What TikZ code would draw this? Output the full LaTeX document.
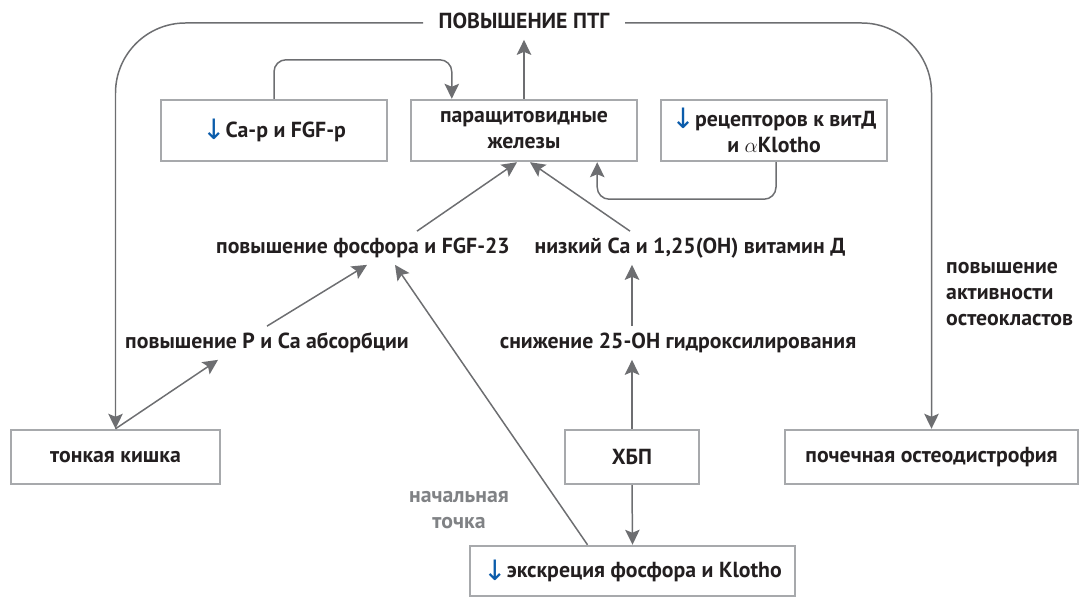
\documentclass[tikz,border=0pt]{standalone}
\usepackage{fontspec}
\setmainfont{PT Sans}
\newfontfamily\arrowfont{DejaVu Sans}
\usepackage{tikz}
\usetikzlibrary{arrows.meta,calc,positioning}
\definecolor{linegray}{HTML}{6D6E71}
\definecolor{boxgray}{HTML}{A7A9AC}
\definecolor{txtblack}{HTML}{231F20}
\definecolor{downblue}{HTML}{0B5CAB}
\definecolor{notegray}{HTML}{808285}
\newcommand{\dn}{\raisebox{-1.5pt}{\arrowfont\mdseries\fontsize{16}{16}\selectfont\color{downblue}↓}}

\begin{document}
\begin{tikzpicture}[x=0.02cm,y=-0.02cm,
  font=\fontsize{12.4}{14.8}\selectfont\bfseries, text=txtblack,
  box/.style={draw=boxgray,line width=1.4pt,align=center,inner sep=0pt},
  lbl/.style={text height=9pt,text depth=2.8pt,inner ysep=3.5pt,inner xsep=3pt},
  link/.style={draw=linegray,line width=0.85pt,-{Stealth[length=3mm,width=2.9mm,inset=0.6mm]}}]
\useasboundingbox (0,0) rectangle (1081,597);
\node[box,minimum width=4.52cm,minimum height=1.22cm] (ca) at (274,130.5) {\dn{}Ca-р и FGF-р};
\node[box,minimum width=4.52cm,minimum height=1.22cm] (pth) at (524,130.5) {паращитовидные\\железы};
\node[box,minimum width=4.52cm,minimum height=1.22cm] (rec) at (774,130.5) {\dn{}рецепторов к витД\\и $\alpha$Klotho};
\node[box,minimum width=4.18cm,minimum height=1.08cm] (gut) at (115.5,457) {тонкая кишка};
\node[box,minimum width=2.68cm,minimum height=1.08cm] (ckd) at (632,457) {ХБП};
\node[box,minimum width=5.86cm,minimum height=1.08cm] (ost) at (931.5,457) {почечная остеодистрофия};
\node[box,minimum width=6.5cm,minimum height=1.0cm] (exc) at (632.5,571) {\dn{}экскреция фосфора и Klotho};
\node[lbl] (ptg) at (524,23) {ПОВЫШЕНИЕ ПТГ};
\node[lbl] (phos) at (363,248) {повышение фосфора и FGF-23};
\node[lbl] (lowca) at (690,248) {низкий Ca и 1,25(OH) витамин Д};
\node[lbl] (hydr) at (678,343) {снижение 25-OH гидроксилирования};
\node[lbl] (absb) at (267,343) {повышение P и Ca абсорбции};
\node[text=notegray,align=center] (start) at (459,510) {начальная\\точка};
\node[align=left,anchor=west] (oclast) at (940,294) {повышение\\активности\\остеокластов};
\draw[link] (pth.north) -- (ptg.south);
\draw[link,rounded corners=1.4cm] ([xshift=-2mm]ptg.west) -| (gut.north);
\draw[link,rounded corners=1.4cm] ([xshift=2mm]ptg.east) -| (ost.north);
\draw[link,rounded corners=2.4mm] (ca.north) -- ++(0,-39) -| ([xshift=8.4mm]pth.north west);
\draw[link,rounded corners=2.4mm] ([xshift=0.4mm]rec.south) -- ++(0,37) -| ([xshift=-8.2mm]pth.south east);
\draw[link] ([xshift=10.8mm]phos.north) -- ([xshift=-1.4mm]pth.south);
\draw[link] ([xshift=-12mm]lowca.north) -- ([xshift=1.2mm]pth.south);
\draw[link] (ckd.north |- hydr.north) -- (ckd.north |- lowca.south);
\draw[link] (ckd.north) -- (ckd.north |- hydr.south);
\draw[link] (ckd.south) -- (exc.north);
\draw[link] (gut.north) -- ([xshift=-9.8mm]absb.south);
\draw[link] (absb.north) -- ([xshift=0.8mm]phos.south);
\draw[link] ([xshift=-9mm]exc.north) -- ([xshift=6.4mm]phos.south);
\end{tikzpicture}
\end{document}
